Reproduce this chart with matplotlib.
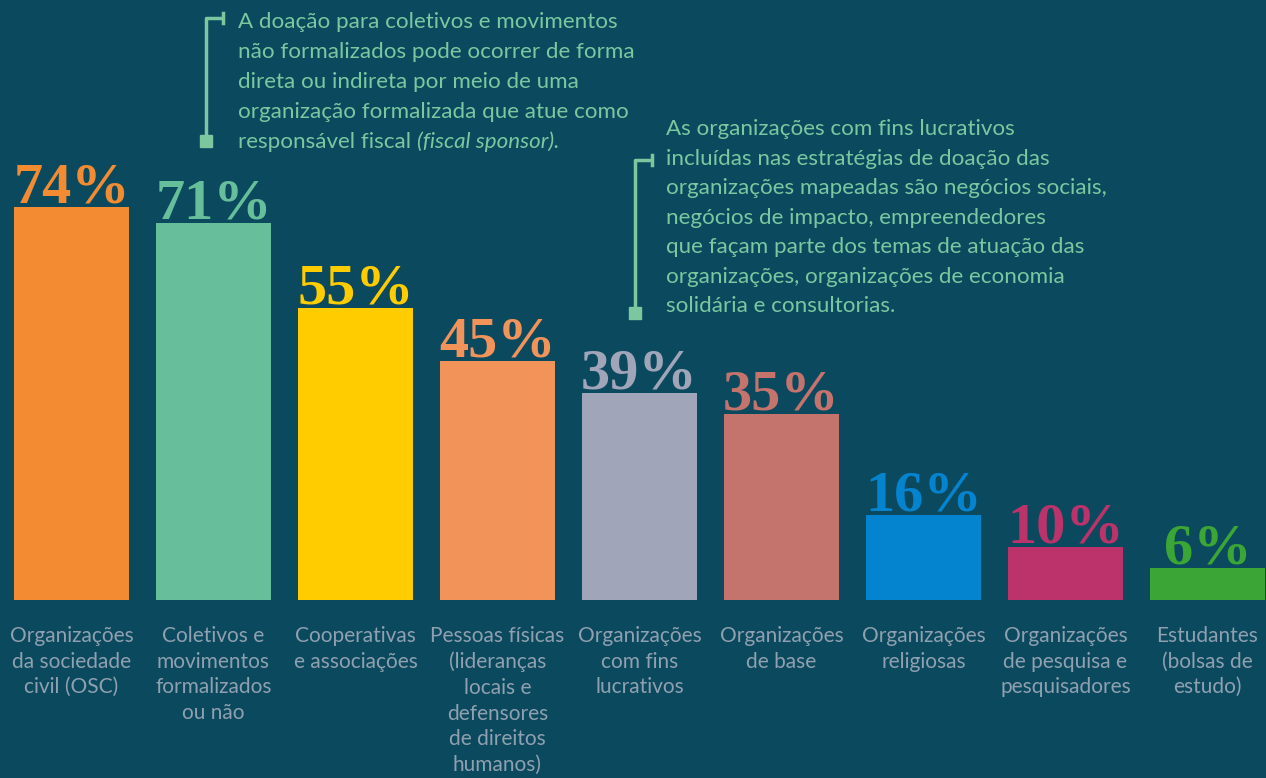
import matplotlib
matplotlib.use("Agg")
import matplotlib.pyplot as plt
from matplotlib.patches import Rectangle

# ---- data ----
categories = [
    "Organizações\nda sociedade\ncivil (OSC)",
    "Coletivos e\nmovimentos\nformalizados\nou não",
    "Cooperativas\ne associações",
    "Pessoas físicas\n(lideranças\nlocais e\ndefensores\nde direitos\nhumanos)",
    "Organizações\ncom fins\nlucrativos",
    "Organizações\nde base",
    "Organizações\nreligiosas",
    "Organizações\nde pesquisa e\npesquisadores",
    "Estudantes\n(bolsas de\nestudo)",
]
values = [74, 71, 55, 45, 39, 35, 16, 10, 6]
value_labels = ["74%", "71%", "55%", "45%", "39%", "35%", "16%", "10%", "6%"]
colors = ["#f28b32", "#67be9b", "#ffcc00", "#f2935a", "#a0a5ba",
          "#c4736d", "#0483cf", "#bc326b", "#3ba535"]

note1_lines = [
    "A doação para coletivos e movimentos",
    "não formalizados pode ocorrer de forma",
    "direta ou indireta por meio de uma",
    "organização formalizada que atue como",
]
note1_last = "responsável fiscal "
note1_italic = "(fiscal sponsor)."
note2_lines = [
    "As organizações com fins lucrativos",
    "incluídas nas estratégias de doação das",
    "organizações mapeadas são negócios sociais,",
    "negócios de impacto, empreendedores",
    "que façam parte dos temas de atuação das",
    "organizações, organizações de economia",
    "solidária e consultorias.",
]

BG = "#0b4a5e"
LABEL_C = "#8fa0b0"
NOTE_C = "#7cc7a0"
SANS = ["Lato", "DejaVu Sans"]
SERIF = ["Liberation Serif", "DejaVu Serif"]

W, H = 1266, 778
fig = plt.figure(figsize=(W / 100, H / 100), dpi=100, facecolor=BG)

# main axes covering the whole figure
ax = fig.add_axes([0, 0, 1, 1])
ax.set_facecolor(BG)
px_per_unit = 5.31
base_px = 600
ax.set_xlim(-71.5 / 142, (W - 71.5) / 142)
ax.set_ylim(-(H - base_px) / px_per_unit, base_px / px_per_unit)
ax.axis("off")

x = list(range(len(values)))
ax.bar(x, values, width=115 / 142, color=colors, zorder=2)

for xi, v, lab, c in zip(x, values, value_labels, colors):
    ax.text(xi, v + 0.8, lab, ha="center", va="baseline", color=c,
            fontsize=42, fontweight="bold", family=SERIF)

for xi, cat in zip(x, categories):
    ax.text(xi, -26 / px_per_unit, cat, ha="center", va="top", color=LABEL_C,
            fontsize=15, family=SANS, linespacing=1.35)

# overlay in pixel coords for annotations
ov = fig.add_axes([0, 0, 1, 1], facecolor="none")
ov.set_xlim(0, W)
ov.set_ylim(H, 0)
ov.axis("off")

def bracket(xl, y0, y1, xt):
    ov.plot([xt, xl, xl], [y0, y0, y1], color=NOTE_C, lw=2.5, solid_capstyle="butt")
    ov.plot([xt, xt], [y0 - 5, y0 + 5], color=NOTE_C, lw=2.5)
    ov.add_patch(Rectangle((xl - 6, y1 - 6), 12, 12, color=NOTE_C))

bracket(206, 18, 141, 223)
bracket(635, 160, 313, 652)

fs_note = 16.1
for i, line in enumerate(note1_lines):
    ov.text(238, 28 + 30 * i, line, color=NOTE_C, fontsize=fs_note, family=SANS,
            va="baseline", ha="left")
t = ov.text(238, 28 + 30 * 4, note1_last, color=NOTE_C, fontsize=fs_note, family=SANS,
            va="baseline", ha="left")
fig.canvas.draw()
bb = t.get_window_extent()
x_end = bb.x1
ov.text(x_end, 28 + 30 * 4, note1_italic, color=NOTE_C, fontsize=fs_note, family=SANS,
        style="italic", va="baseline", ha="left")

for i, line in enumerate(note2_lines):
    ov.text(666, 135 + 29.5 * i, line, color=NOTE_C, fontsize=fs_note, family=SANS,
            va="baseline", ha="left")

fig.savefig("out.png", dpi=100, facecolor=BG)
